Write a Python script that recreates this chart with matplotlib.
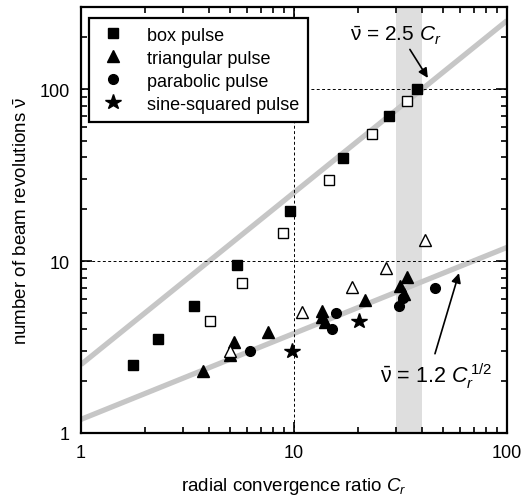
import numpy as np
import matplotlib
matplotlib.use("Agg")
import matplotlib.pyplot as plt

plt.rcParams['font.family'] = ['Liberation Sans', 'DejaVu Sans']
plt.rcParams['mathtext.fontset'] = 'custom'
plt.rcParams['mathtext.rm'] = 'Liberation Sans'
plt.rcParams['mathtext.it'] = 'Liberation Sans:italic'
plt.rcParams['mathtext.bf'] = 'Liberation Sans:bold'

# box pulse (filled = one set, open = other set)
box_x = [1.75, 2.3, 3.4, 5.4, 9.6, 17, 28, 38]
box_y = [2.5, 3.5, 5.5, 9.5, 19.5, 39.5, 70, 100]
box_open_x = [4.05, 5.7, 8.9, 14.6, 23.3, 34]
box_open_y = [4.5, 7.5, 14.5, 29.5, 55, 85]

# triangular pulse
tri_x = [3.75, 5.0, 5.2, 7.55, 13.5, 13.6, 14.0, 21.5, 31.5, 33, 34]
tri_y = [2.3, 2.85, 3.4, 3.85, 5.1, 4.75, 4.4, 5.9, 7.2, 6.4, 8.1]
tri_open_x = [5.0, 10.9, 18.7, 27, 41]
tri_open_y = [3.0, 5.05, 7.05, 9.1, 13.2]

# parabolic pulse
circ_x = [6.2, 15.1, 15.7, 31, 32.5, 46]
circ_y = [3.0, 4.0, 5.0, 5.5, 6.1, 7.0]

# sine-squared pulse
star_x = [9.8, 20.3]
star_y = [3.0, 4.5]

# fits
fit_lin = 2.5
fit_sqrt = 1.2

fig = plt.figure(figsize=(5.23, 5.02), dpi=100)
ax = fig.add_axes([81/523, 1-434/502, 426/523, 426/502])

ax.set_xscale('log')
ax.set_yscale('log')
ax.set_xlim(1, 100)
ax.set_ylim(1, 300)

ax.axvspan(30, 40, color='#dedede', lw=0, zorder=0)

cr = np.logspace(0, 2, 200)
ax.plot(cr, fit_lin * cr, color='#c6c6c6', lw=3.8, solid_capstyle='butt', zorder=1)
ax.plot(cr, fit_sqrt * np.sqrt(cr), color='#c6c6c6', lw=3.8, solid_capstyle='butt', zorder=1)

for v in [10, 100]:
    ax.axhline(v, color='k', lw=0.7, ls=(0, (3, 2.5)), zorder=1.5)
ax.axvline(10, color='k', lw=0.7, ls=(0, (3, 2.5)), zorder=1.5)

ms = 6.5
ax.plot(box_x, box_y, 's', color='k', ms=ms, ls='none', zorder=3, label='box pulse')
ax.plot(box_open_x, box_open_y, 's', mfc='white', mec='k', mew=1, ms=ms, ls='none', zorder=3)
ax.plot(tri_x, tri_y, '^', color='k', ms=ms + 1.5, ls='none', zorder=3, label='triangular pulse')
ax.plot(tri_open_x, tri_open_y, '^', mfc='white', mec='k', mew=1, ms=ms + 1.5, ls='none', zorder=3.5)
ax.plot(circ_x, circ_y, 'o', color='k', ms=ms + 0.5, ls='none', zorder=3, label='parabolic pulse')
ax.plot(star_x, star_y, '*', color='k', ms=ms + 5, ls='none', zorder=3, label='sine-squared pulse')

ax.text(30, 190, r'$\bar{\mathrm{\nu}}$ = 2.5 $C_{r}$', ha='center', va='baseline', fontsize=15)
ax.annotate('', xy=(42.5, 116), xytext=(35, 170),
            arrowprops=dict(arrowstyle='-|>', color='k', lw=1.2, shrinkA=0, shrinkB=0,
                            mutation_scale=14))
ax.text(25.3, 1.98, r'$\bar{\mathrm{\nu}}$ = 1.2 $C_{r}^{\,1/2}$', ha='left', va='baseline', fontsize=15.5)
ax.annotate('', xy=(59.5, 8.5), xytext=(45.9, 2.89),
            arrowprops=dict(arrowstyle='-|>', color='k', lw=1.2, shrinkA=0, shrinkB=0,
                            mutation_scale=14))

leg = ax.legend(loc='upper left', bbox_to_anchor=(0.019, 0.975), borderaxespad=0, fontsize=13,
                frameon=True, fancybox=False, edgecolor='k', framealpha=1,
                handletextpad=1.1, labelspacing=0.33, borderpad=0.5, handlelength=1.6)
leg.get_frame().set_linewidth(1.6)
leg.set_zorder(5)

ax.set_xticks([1, 10, 100])
ax.set_xticklabels(['1', '10', '100'])
ax.set_yticks([1, 10, 100])
ax.set_yticklabels(['1', '10', '100'])
ax.tick_params(which='both', direction='in', top=True, right=True, labelsize=13, width=1.2)
ax.tick_params(which='major', length=8, pad=8)
ax.tick_params(which='minor', length=4)
ax.yaxis.set_minor_formatter(matplotlib.ticker.NullFormatter())
ax.xaxis.set_minor_formatter(matplotlib.ticker.NullFormatter())
for s in ax.spines.values():
    s.set_linewidth(1.6)

ax.set_xlabel(r'radial convergence ratio $C_r$', fontsize=13.5, labelpad=10)
ax.set_ylabel(r'number of beam revolutions $\bar{\mathrm{\nu}}$', fontsize=13.5, labelpad=6)

fig.savefig('out.png', dpi=100)
